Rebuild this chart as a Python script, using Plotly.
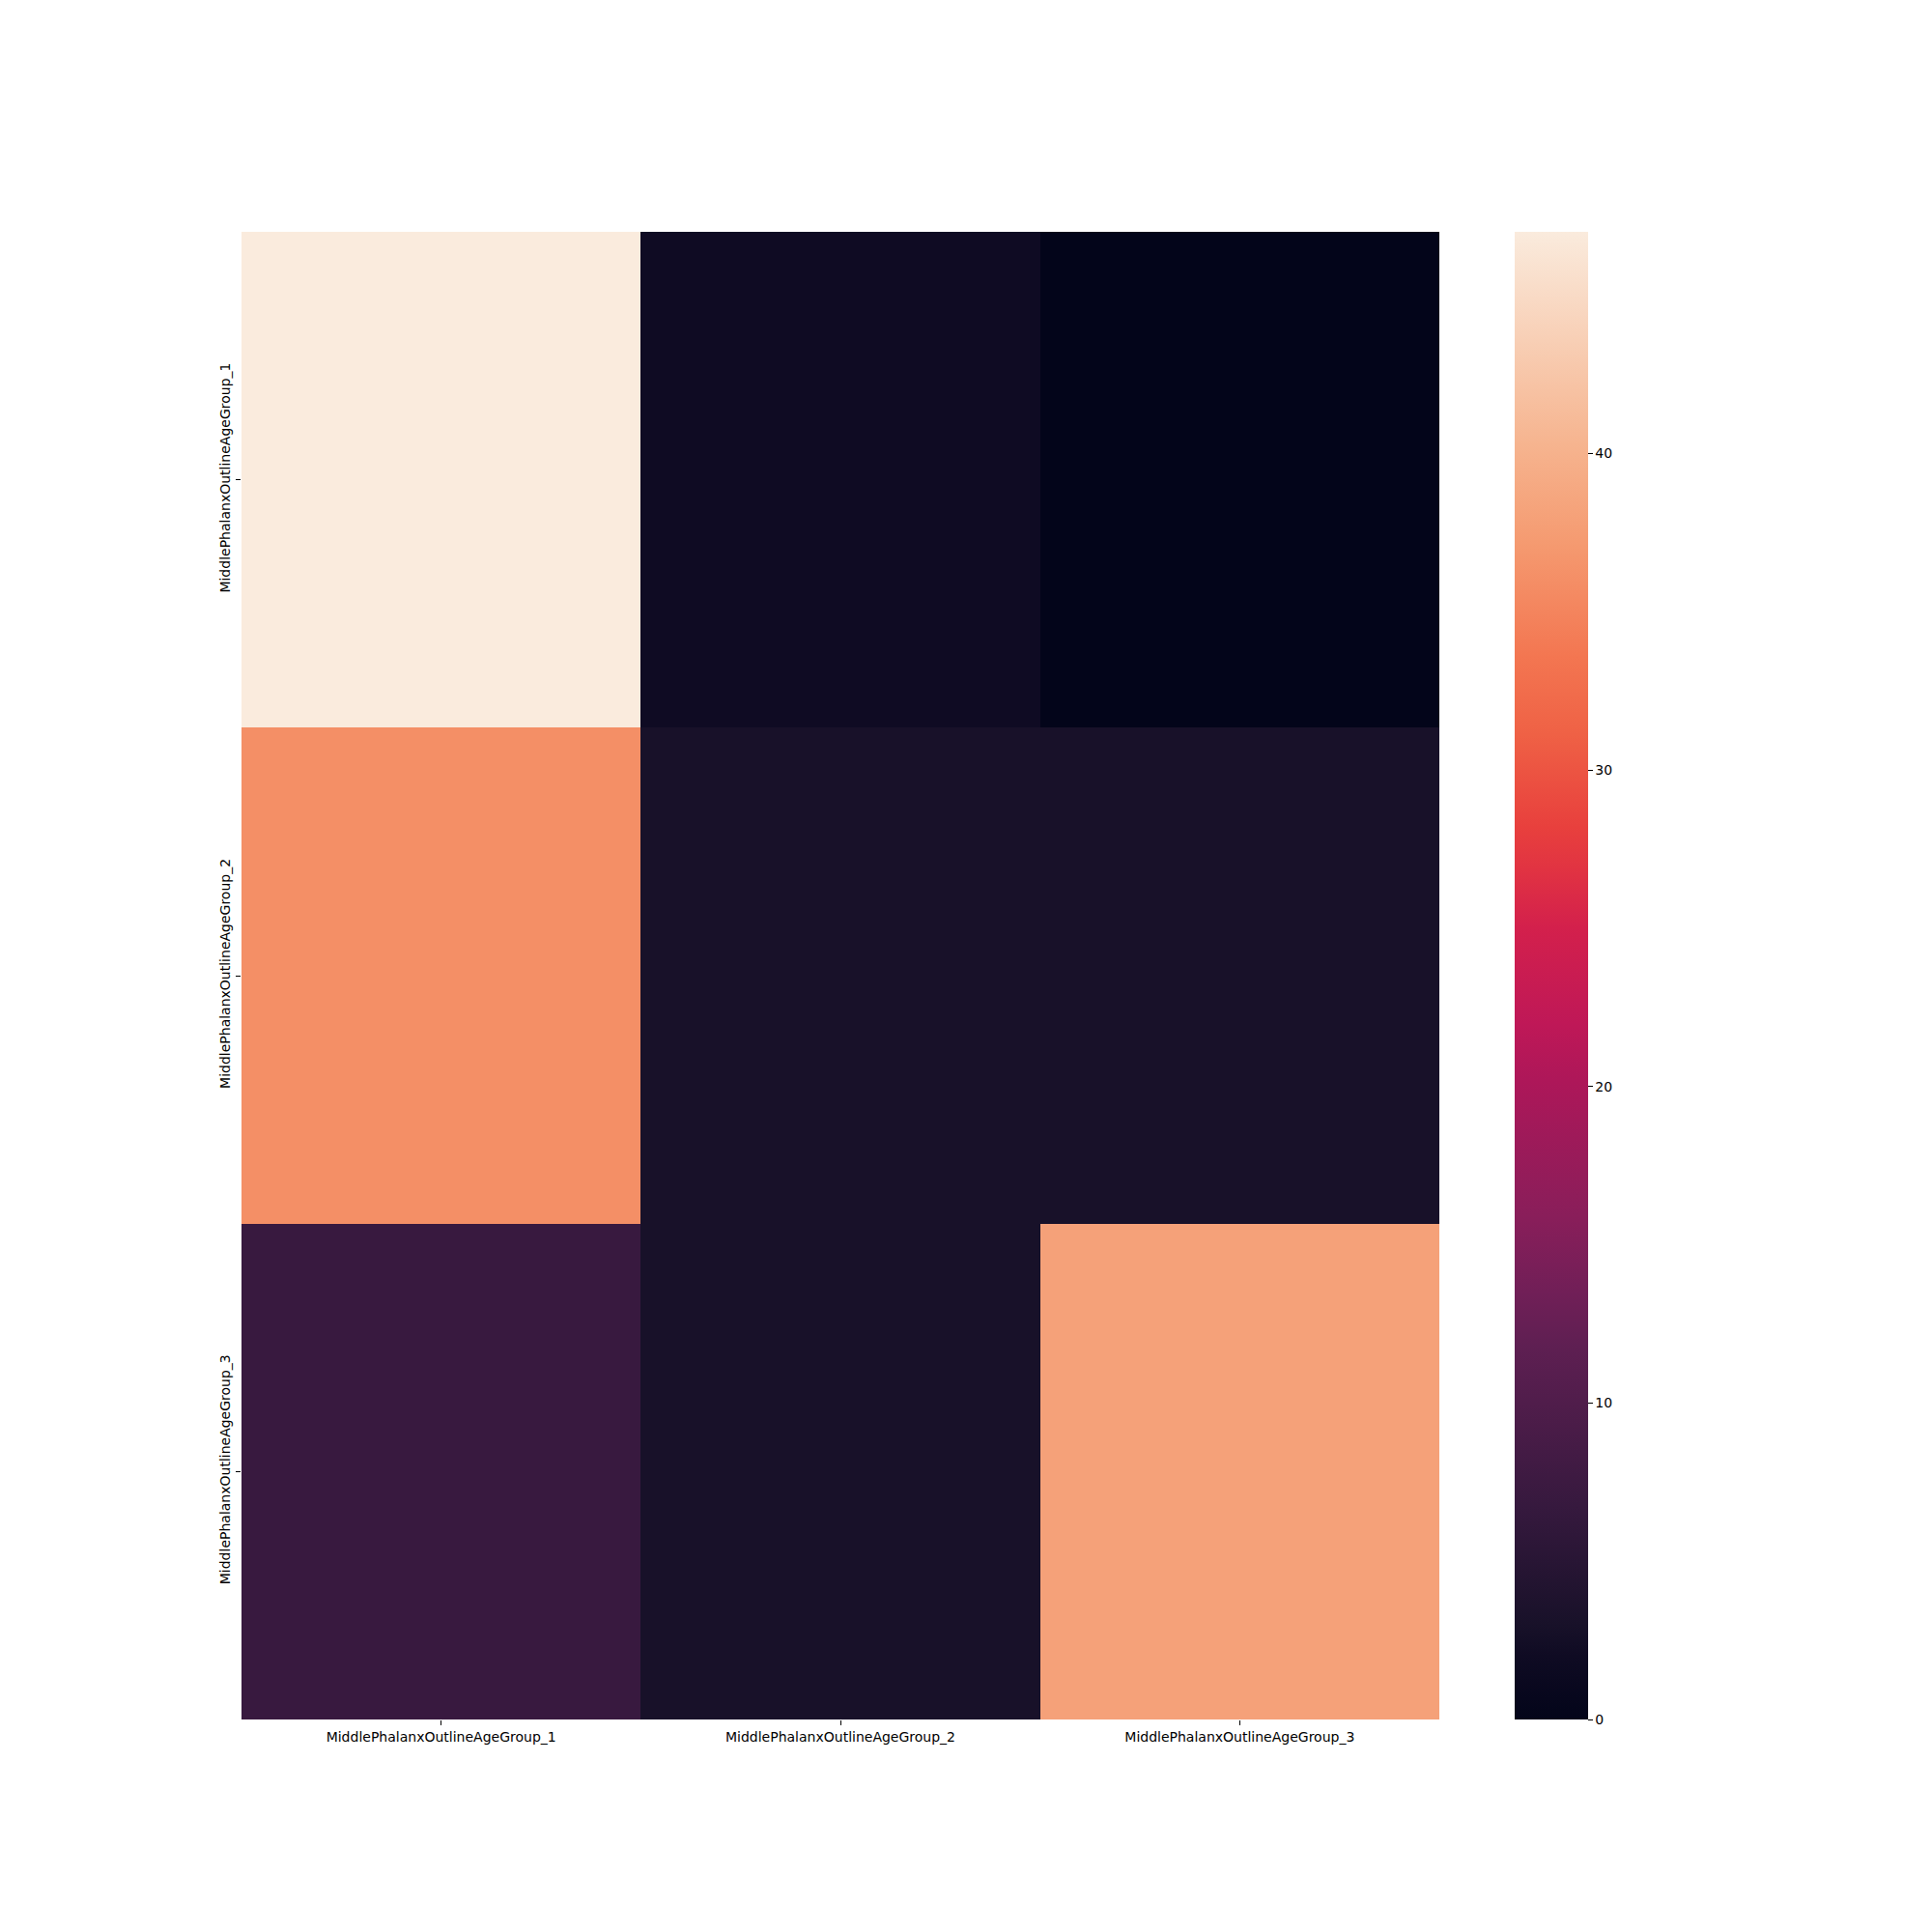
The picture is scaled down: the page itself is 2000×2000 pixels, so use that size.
import plotly.graph_objects as go

x_labels = ["MiddlePhalanxOutlineAgeGroup_1", "MiddlePhalanxOutlineAgeGroup_2", "MiddlePhalanxOutlineAgeGroup_3"]
y_labels = ["MiddlePhalanxOutlineAgeGroup_1", "MiddlePhalanxOutlineAgeGroup_2", "MiddlePhalanxOutlineAgeGroup_3"]
row_1 = [47, 2, 0]
row_2 = [36, 3, 3]
row_3 = [7, 3, 38]
z_values = [row_1, row_2, row_3]
cbar_ticks = [0, 10, 20, 30, 40]

rocket = [
    [0.0, "#03051a"],
    [0.0426, "#0f0b23"],
    [0.0638, "#181129"],
    [0.1429, "#36193e"],
    [0.2500, "#5e1f52"],
    [0.2857, "#701f57"],
    [0.3380, "#891e5a"],
    [0.4286, "#ad1759"],
    [0.4680, "#bf1857"],
    [0.5320, "#d3204c"],
    [0.5714, "#e13342"],
    [0.6000, "#e8403d"],
    [0.6620, "#ef6145"],
    [0.7143, "#f37651"],
    [0.7900, "#f59a70"],
    [0.8571, "#f6b48f"],
    [1.0, "#faebdd"],
]

font = dict(family="DejaVu Sans", size=14, color="black")

fig = go.Figure(
    go.Heatmap(
        z=z_values,
        x=x_labels,
        y=y_labels,
        zmin=0,
        zmax=max(max(r) for r in z_values),
        colorscale=rocket,
        colorbar=dict(
            thickness=76,
            thicknessmode="pixels",
            len=1540,
            lenmode="pixels",
            x=(1568 - 250) / 1240,
            xanchor="left",
            xref="paper",
            xpad=0,
            ypad=0,
            y=1.0,
            yanchor="top",
            outlinewidth=0,
            ticks="outside",
            ticklen=5,
            tickwidth=1,
            tickcolor="black",
            tickvals=cbar_ticks,
            tickfont=font,
        ),
        hoverongaps=False,
    )
)

fig.update_layout(
    width=2000,
    height=2000,
    autosize=False,
    margin=dict(l=250, r=510, t=240, b=220, pad=0),
    paper_bgcolor="white",
    plot_bgcolor="white",
    font=font,
    xaxis=dict(
        showgrid=False, zeroline=False, showline=False,
        ticks="outside", ticklen=5, tickwidth=1, tickcolor="black",
        tickfont=font, tickangle=0,
    ),
    yaxis=dict(
        showgrid=False, zeroline=False, showline=False,
        autorange="reversed",
        ticks="outside", ticklen=5, tickwidth=1, tickcolor="black",
        tickfont=font, tickangle=-90,
    ),
)

fig.write_html("out.html")
